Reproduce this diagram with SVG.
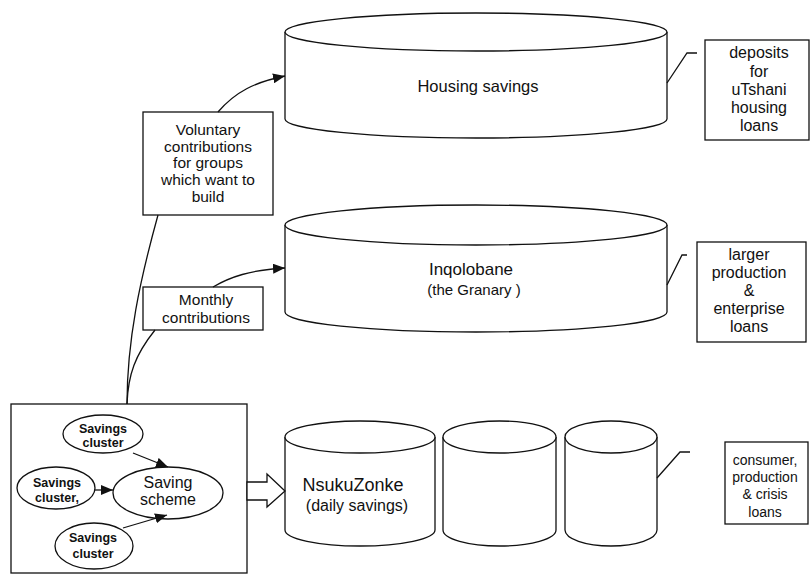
<svg xmlns="http://www.w3.org/2000/svg" width="812" height="585" viewBox="0 0 812 585">
<defs>
<marker id="ah" markerUnits="userSpaceOnUse" markerWidth="13" markerHeight="10" refX="12" refY="5" orient="auto">
<path d="M0,0 L12,5 L0,10 Z" fill="#111"/>
</marker>
<style>
.s{fill:none;stroke:#111;stroke-width:1.3}
.b{fill:#fff;stroke:#111;stroke-width:1.3}
.t{font-family:"Liberation Sans",Arial,sans-serif;fill:#111;text-anchor:middle}
.c{font-size:16px}
.cl{font-size:12.5px;font-weight:bold}
.v{font-size:15.5px}
</style>
</defs>
<rect width="812" height="585" fill="#fff"/>

<g id="housing">
<path class="b" d="M285,32 V119 A191,19 0 0 0 667,119 V32"/>
<ellipse class="b" cx="476" cy="32" rx="191" ry="19"/>
<text class="t" x="478" y="92" font-size="16.5">Housing savings</text>
</g>

<g id="inqolobane">
<path class="b" d="M285,225 V312 A191,20 0 0 0 667,312 V225"/>
<ellipse class="b" cx="476" cy="225" rx="191" ry="20"/>
<text class="t" x="471" y="275" font-size="17">Inqolobane</text>
<text class="t" x="474" y="295" font-size="15">(the Granary )</text>
</g>

<g id="nsukuzonke">
<path class="b" d="M285,437 V530 A75,16 0 0 0 435,530 V437"/>
<ellipse class="b" cx="360" cy="437" rx="75" ry="16"/>
<text class="t" x="353" y="491" font-size="18">NsukuZonke</text>
<text class="t" x="357" y="511" font-size="16">(daily savings)</text>
</g>
<g id="cyl2">
<path class="b" d="M443,437 V530 A56.5,16 0 0 0 556,530 V437"/>
<ellipse class="b" cx="499.5" cy="437" rx="56.5" ry="16"/>
</g>
<g id="cyl3">
<path class="b" d="M565,437 V530 A46,16 0 0 0 657,530 V437"/>
<ellipse class="b" cx="611" cy="437" rx="46" ry="16"/>
</g>

<g id="callout1">
<rect class="b" x="705" y="40" width="104" height="100"/>
<text class="t c" x="759" y="58">deposits</text>
<text class="t c" x="759" y="77">for</text>
<text class="t c" x="759" y="95">uTshani</text>
<text class="t c" x="759" y="113">housing</text>
<text class="t c" x="759" y="131">loans</text>
</g>
<g id="callout2">
<rect class="b" x="697" y="242" width="109" height="100"/>
<text class="t c" x="749" y="260">larger</text>
<text class="t c" x="749" y="278">production</text>
<text class="t c" x="749" y="296">&amp;</text>
<text class="t c" x="749" y="314">enterprise</text>
<text class="t c" x="749" y="332">loans</text>
</g>
<g id="callout3">
<rect class="b" x="725" y="442" width="83" height="82"/>
<text class="t" x="765" y="465" font-size="14">consumer,</text>
<text class="t" x="765" y="482" font-size="14">production</text>
<text class="t" x="765" y="499" font-size="14">&amp; crisis</text>
<text class="t" x="765" y="517" font-size="14">loans</text>
</g>

<g id="voluntary">
<rect class="b" x="143" y="112" width="130" height="103"/>
<text class="t v" x="208" y="135">Voluntary</text>
<text class="t v" x="208" y="152">contributions</text>
<text class="t v" x="208" y="168">for groups</text>
<text class="t v" x="208" y="185">which want to</text>
<text class="t v" x="208" y="202">build</text>
</g>
<g id="monthly">
<rect class="b" x="143" y="287" width="120" height="43"/>
<text class="t v" x="206" y="305">Monthly</text>
<text class="t v" x="206" y="323">contributions</text>
</g>

<g id="savings-box">
<rect class="b" x="11" y="404" width="236" height="169"/>
</g>
<g id="cluster1">
<ellipse class="b" cx="103" cy="434" rx="40" ry="19"/>
<text class="t cl" x="103" y="433">Savings</text>
<text class="t cl" x="103" y="447">cluster</text>
</g>
<g id="cluster2">
<ellipse class="b" cx="56" cy="488" rx="39" ry="21"/>
<text class="t cl" x="57" y="487">Savings</text>
<text class="t cl" x="57" y="502">cluster,</text>
</g>
<g id="cluster3">
<ellipse class="b" cx="94" cy="546" rx="39" ry="23"/>
<text class="t cl" x="93" y="542">Savings</text>
<text class="t cl" x="93" y="558">cluster</text>
</g>
<g id="scheme">
<ellipse class="b" cx="168" cy="493" rx="55" ry="26"/>
<text class="t" x="168" y="488" font-size="16">Saving</text>
<text class="t" x="168" y="505" font-size="16">scheme</text>
</g>

<g id="connectors">
<path class="s" d="M127,404 C127,340 140,280 158,215"/>
<path class="s" d="M127,404 C128,375 135,355 155,330"/>
<path class="s" d="M218,112 C235,92 255,82 285,76" marker-end="url(#ah)"/>
<path class="s" d="M213,287 C230,277 250,270 285,268" marker-end="url(#ah)"/>
<path class="s" d="M133,453 L168,467" marker-end="url(#ah)"/>
<path class="s" d="M95,490 L113,490" marker-end="url(#ah)"/>
<path class="s" d="M123,528 L167,515" marker-end="url(#ah)"/>
<path class="s" d="M667,83 L687,53 L697,53"/>
<path class="s" d="M667,285 L682,255 L687,255"/>
<path class="s" d="M657,478 L680,452 L690,452"/>
<polygon class="b" points="247,482 267,482 267,474 285,491 267,507 267,500 247,500"/>
</g>
</svg>
